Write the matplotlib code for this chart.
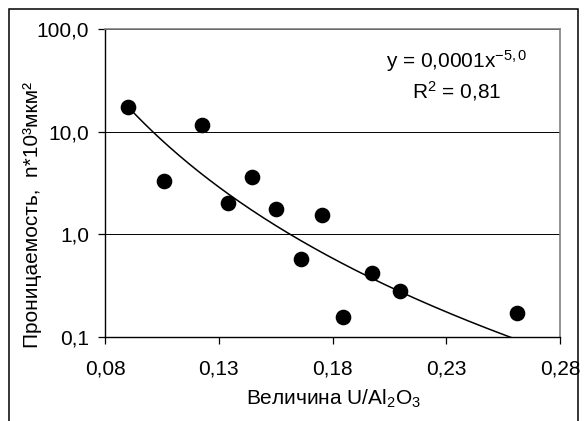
import matplotlib
matplotlib.use("Agg")
import matplotlib.pyplot as plt
import numpy as np
from matplotlib.patches import Rectangle
from matplotlib.ticker import FixedLocator, FuncFormatter, NullLocator

plt.rcParams['font.family'] = ['Liberation Sans', 'DejaVu Sans']
plt.rcParams['mathtext.fontset'] = 'custom'
plt.rcParams['mathtext.rm'] = 'Liberation Sans'
plt.rcParams['mathtext.it'] = 'Liberation Sans:italic'

# data
u_al2o3 = [0.0903, 0.1061, 0.1228, 0.1342, 0.1448, 0.1552,
           0.1661, 0.1756, 0.1844, 0.1975, 0.2097, 0.2610]
permeability = [17.3, 3.31, 11.6, 2.04, 3.65, 1.77,
                0.573, 1.55, 0.158, 0.424, 0.283, 0.173]
# power trendline y = a * x^b as drawn
trend_a = 1.29e-4
trend_b = -4.91
x_ticks = [0.08, 0.13, 0.18, 0.23, 0.28]
y_ticks = [0.1, 1.0, 10.0, 100.0]
equation_text = "y = 0,0001x$^{\\mathrm{-5,0}}$"
r2_text = "R$^{2}$ = 0,81"

FS = 15

fig = plt.figure(figsize=(5.85, 4.21), dpi=100)
ax = fig.add_axes([105 / 585, 1 - 337 / 421, 455 / 585, 308 / 421])

# outer frame of the chart (bottom edge is cut off)
fig.patches.append(Rectangle((9 / 585, -0.05), 569 / 585, 1 - 9 / 421 + 0.05,
                             transform=fig.transFigure, fill=False,
                             edgecolor='black', linewidth=1.1, zorder=0))

x = np.array(u_al2o3)
y = np.array(permeability)
ax.scatter(x, y, s=105, color='black', zorder=3)

xs = np.linspace(x.min(), x.max(), 200)
ax.plot(xs, trend_a * xs ** trend_b, color='black', linewidth=1.1, zorder=2)

ax.set_yscale('log')
ax.set_xlim(0.08, 0.28)
ax.set_ylim(0.1, 100)
ax.xaxis.set_major_locator(FixedLocator(x_ticks))
ax.yaxis.set_major_locator(FixedLocator(y_ticks))
ax.yaxis.set_minor_locator(NullLocator())
ax.xaxis.set_major_formatter(FuncFormatter(lambda v, p: f"{v:.2f}".replace('.', ',')))
ax.yaxis.set_major_formatter(FuncFormatter(lambda v, p: f"{v:.1f}".replace('.', ',')))
ax.tick_params(axis='both', direction='out', length=5, width=0.9,
               labelsize=FS, color='black')
ax.tick_params(axis='x', pad=11.5)
ax.tick_params(axis='y', pad=6.5)

ax.grid(axis='y', which='major', color='black', linewidth=0.7)
ax.set_axisbelow(True)
for side in ['left', 'bottom']:
    ax.spines[side].set_color('black')
    ax.spines[side].set_linewidth(1.0)
for side in ['top', 'right']:
    ax.spines[side].set_color('#808080')
    ax.spines[side].set_linewidth(1.2)

ax.set_xlabel("Величина U/Al$_{2}$O$_{3}$", fontsize=FS, va='baseline')
ax.set_ylabel("Проницаемость,  n*10³мкм²", fontsize=FS, va='center')
ax.xaxis.set_label_coords(0.503, -0.221)
ax.yaxis.set_label_coords(-0.160, 0.396)

ax.text(0.774, 0.873, equation_text, transform=ax.transAxes,
        ha='center', va='baseline', fontsize=FS)
ax.text(0.774, 0.776, r2_text, transform=ax.transAxes,
        ha='center', va='baseline', fontsize=FS)

fig.savefig("out.png", dpi=100)
